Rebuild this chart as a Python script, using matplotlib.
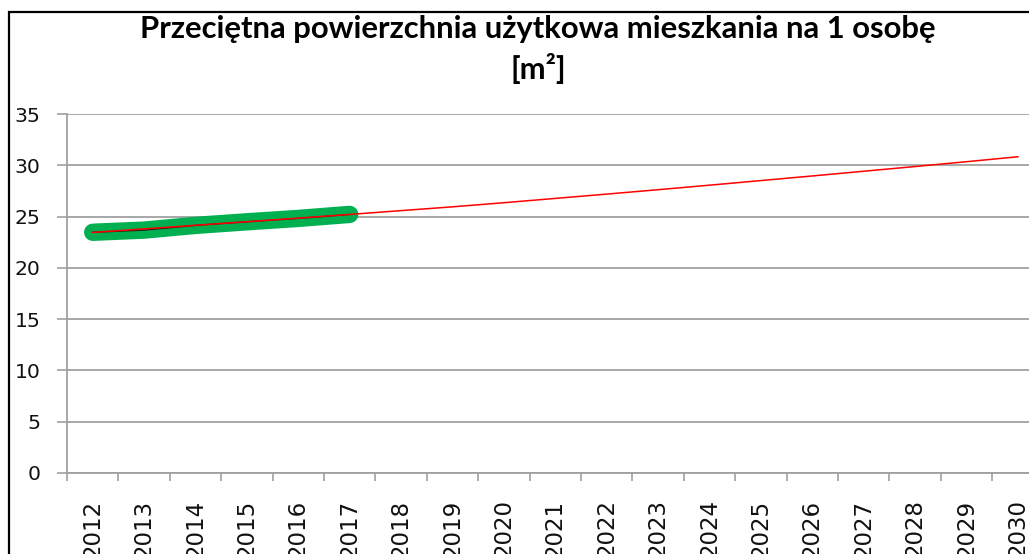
import matplotlib
matplotlib.use("Agg")
import matplotlib.pyplot as plt
from matplotlib.patches import Rectangle
from matplotlib.ticker import FixedLocator, NullFormatter

years = [str(y) for y in range(2012, 2031)]
data_years = ["2012", "2013", "2014", "2015", "2016", "2017"]
data_values = [23.47, 23.68, 24.14, 24.49, 24.82, 25.21]
trend_values = [23.45, 23.80, 24.15, 24.50, 24.85, 25.21, 25.58, 25.95, 26.35,
                26.77, 27.19, 27.62, 28.06, 28.51, 28.96, 29.42, 29.88, 30.35, 30.83]
y_ticks = [0, 5, 10, 15, 20, 25, 30, 35]
title_line1 = "Przeciętna powierzchnia użytkowa mieszkania na 1 osobę"
title_line2 = "[m²]"

W, H = 1029, 554
fig = plt.figure(figsize=(W / 100, H / 100), dpi=100)
fig.patch.set_facecolor("white")

left_px, right_px, top_px, bottom_px = 67, 1043.6, 114, 473
ax = fig.add_axes([left_px / W, (H - bottom_px) / H,
                   (right_px - left_px) / W, (bottom_px - top_px) / H])
ax.set_facecolor("white")

xi = {y: i for i, y in enumerate(years)}
data_x = [xi[y] for y in data_years]
trend_x = [xi[y] for y in years]

grid_c = "#A0A0A0"
for v in y_ticks:
    ax.axhline(v, color=grid_c, lw=1.3, zorder=1)

ax.plot(data_x, data_values, color="#00B050", lw=12.5, solid_capstyle="round",
        solid_joinstyle="round", zorder=3)
ax.plot(data_x, data_values, color="#202020", lw=1.0, zorder=4)
ax.plot(trend_x, trend_values, color="#FF0000", lw=1.1, zorder=5)

ax.set_xlim(-0.5, len(years) - 0.5)
ax.set_ylim(0, 35)

ax.xaxis.set_major_locator(FixedLocator([i - 0.5 for i in range(len(years) + 1)]))
ax.xaxis.set_major_formatter(NullFormatter())
ax.xaxis.set_minor_locator(FixedLocator(list(range(len(years)))))
ax.set_xticklabels(years, minor=True)
ax.tick_params(axis="x", which="major", direction="out", length=5.5, width=1.2,
               color=grid_c)
ax.tick_params(axis="x", which="minor", length=0, pad=19, labelsize=16.5,
               labelrotation=90, labelcolor="#111111")
for lab in ax.get_xticklabels(minor=True):
    lab.set_va("top")
    lab.set_ha("center")

ax.set_yticks(y_ticks)
ax.tick_params(axis="y", direction="out", length=7.2, width=1.2, color=grid_c,
               pad=12, labelsize=14.7, labelcolor="#111111")

for s in ["top", "right"]:
    ax.spines[s].set_visible(False)
for s in ["left", "bottom"]:
    ax.spines[s].set_color(grid_c)
    ax.spines[s].set_linewidth(1.3)

# chart border (extends past the right and bottom edges)
fig.patches.append(Rectangle((8.5 / W, -0.2), 1.5, (H - 12.5) / H + 0.2,
                             transform=fig.transFigure, fill=False,
                             edgecolor="black", lw=1.6, clip_on=False))

fig.text(538 / W, 1 - 29 / H, title_line1, ha="center", va="center",
         fontsize=22.3, fontweight="bold", family=["Lato", "DejaVu Sans"])
fig.text(538 / W, 1 - 68 / H, title_line2, ha="center", va="center",
         fontsize=22.3, fontweight="bold", family=["Lato", "DejaVu Sans"])

fig.savefig("out.png", dpi=100, facecolor="white")
